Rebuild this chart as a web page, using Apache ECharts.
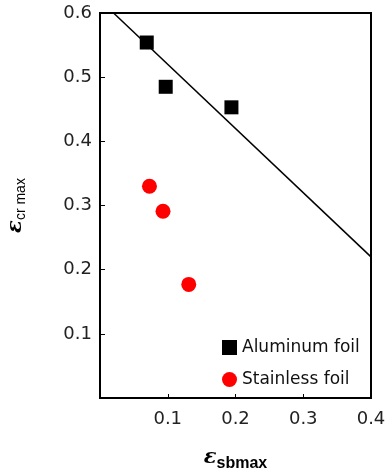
<!DOCTYPE html>
<html><head><meta charset="utf-8">
<script src="https://cdn.jsdelivr.net/npm/echarts@6/dist/echarts.min.js"></script>
<style>html,body{margin:0;padding:0;background:#fff}#c{width:385px;height:470px}</style>
</head><body><div id="c"></div>
<script>
var aluminumX = [0.069, 0.097, 0.194];
var aluminumY = [0.554, 0.485, 0.453];
var stainlessX = [0.073, 0.093, 0.131];
var stainlessY = [0.330, 0.291, 0.177];
var fitX = [0.02, 0.40];
var fitY = [0.60, 0.22];
var seriesNames = ['Aluminum foil', 'Stainless foil'];

function pairs(xs, ys){ return xs.map(function(x,i){ return [x, ys[i]]; }); }
var font = 'DejaVu Sans, sans-serif';
var chart = echarts.init(document.getElementById('c'), null, {renderer:'canvas'});
chart.setOption({
  animation:false,
  backgroundColor:'#fff',
  grid:{left:100,right:14,top:13,bottom:72,show:true,borderColor:'#000',borderWidth:2,containLabel:false,outerBoundsMode:'none'},
  xAxis:{type:'value',min:0,max:0.4,interval:0.1,
    axisLine:{lineStyle:{color:'#000',width:2}},
    axisTick:{inside:true,length:4,lineStyle:{color:'#000'}},
    splitLine:{show:false},
    axisLabel:{color:'#222',fontSize:18,fontFamily:font,margin:12,formatter:function(v){return v===0?'':v.toFixed(1);}},
    name:'{e|ε}{s|sbmax}',nameLocation:'middle',nameGap:46,
    nameTextStyle:{rich:{e:{fontSize:21,fontStyle:'italic',fontWeight:'bold',fontFamily:'DejaVu Serif, serif',color:'#000'},
      s:{fontSize:16,fontWeight:'bold',fontFamily:'Liberation Sans, Arial, sans-serif',color:'#000',padding:[12,0,0,0]}}}
  },
  yAxis:{type:'value',min:0,max:0.6,interval:0.1,
    axisLine:{lineStyle:{color:'#000',width:2}},
    axisTick:{inside:true,length:5,lineStyle:{color:'#000'}},
    splitLine:{show:false},
    axisLabel:{color:'#222',fontSize:18,fontFamily:font,margin:8,formatter:function(v){return v===0?'':v.toFixed(1);}},
    name:'{e|ε}{s|cr max}',nameLocation:'middle',nameGap:72,
    nameTextStyle:{rich:{e:{fontSize:21,fontStyle:'italic',fontWeight:'bold',fontFamily:'DejaVu Serif, serif',color:'#000'},
      s:{fontSize:14,fontFamily:'Liberation Sans, Arial, sans-serif',color:'#000',padding:[10,0,0,0]}}}
  },
  legend:{orient:'vertical',left:222,top:339,itemWidth:15,itemHeight:15,itemGap:15,padding:0,itemStyle:{opacity:1},
    textStyle:{fontSize:17,fontFamily:font,color:'#111'},
    data:[{name:seriesNames[0],icon:'rect'},{name:seriesNames[1],icon:'circle'}]},
  series:[
    {type:'line',data:pairs(fitX,fitY),showSymbol:false,symbol:'none',lineStyle:{color:'#000',width:1.5},silent:true},
    {name:seriesNames[0],type:'scatter',symbol:'rect',symbolSize:14,itemStyle:{color:'#000',opacity:1},data:pairs(aluminumX,aluminumY)},
    {name:seriesNames[1],type:'scatter',symbol:'circle',symbolSize:15,itemStyle:{color:'#ff0000',opacity:1},data:pairs(stainlessX,stainlessY)}
  ]
});
</script></body></html>
